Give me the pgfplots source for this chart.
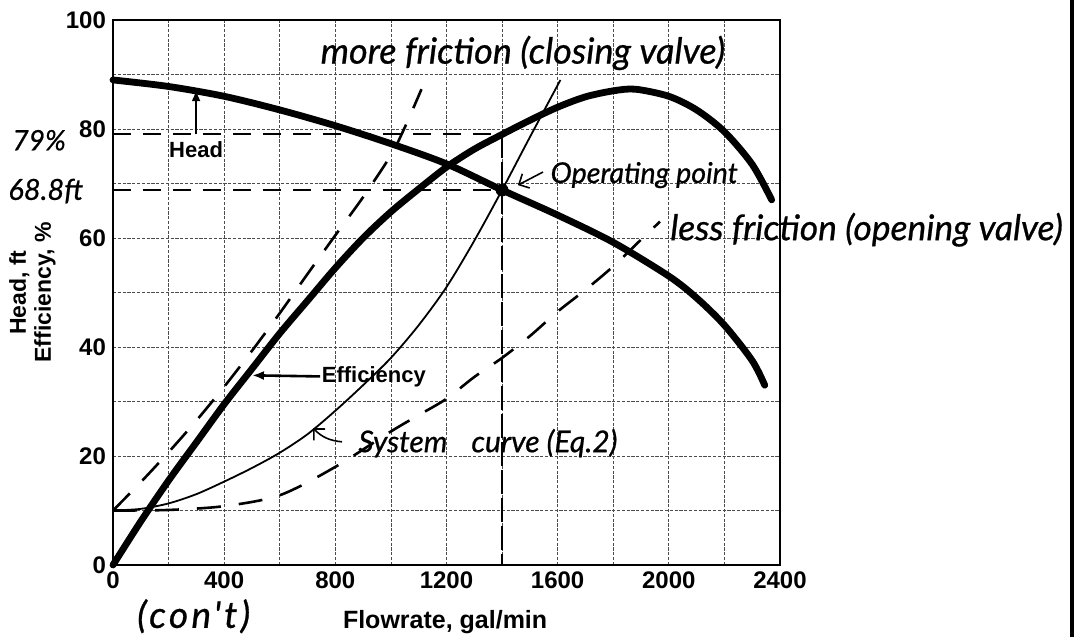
\documentclass[border=0pt]{standalone}
\usepackage{pgfplots}
\pgfplotsset{compat=1.18}
\usepackage{fontspec}
\setmainfont{Liberation Sans}
\newfontfamily\hand{Lato Italic}[FakeBold=0.7]
\newfontfamily\handwide{Lato Italic}[FakeBold=0.7, LetterSpace=9]
\usetikzlibrary{arrows.meta}
\begin{document}
\begin{tikzpicture}
\useasboundingbox (-56.5pt,-36pt) rectangle (482.5pt,282.5pt);
\begin{axis}[
  at={(0pt,0pt)}, anchor=south west,
  scale only axis, width=333.5pt, height=272.5pt,
  xmin=0, xmax=2400, ymin=0, ymax=100,
  xtick={0,400,...,2400}, minor xtick={200,600,...,2200},
  ytick={0,20,...,100}, minor ytick={10,30,...,90},
  grid=both,
  major grid style={black!70, line width=0.4pt, dash pattern=on 1.6pt off 0.8pt},
  minor grid style={black!70, line width=0.4pt, dash pattern=on 1.6pt off 0.8pt},
  major tick length=0pt, minor tick length=0pt,
  axis line style={black, line width=0.7pt},
  ticklabel style={font=\bfseries\fontsize{12}{14}\selectfont},
  /pgf/number format/assume math mode=true,
  /pgf/number format/1000 sep={},
  clip=false,
]
% Head curve
\addplot[black, line width=3.4pt, line cap=round, smooth] coordinates {
(0,89) (200,87.8) (400,86) (600,83.5) (800,80.6) (1000,77.3) (1200,73.6) (1400,68.8)
(1600,64.2) (1800,59.2) (2000,53) (2100,49) (2200,44) (2300,37.5) (2345,33)};
% Efficiency curve
\addplot[black, line width=3.4pt, line cap=round, smooth] coordinates {
(0,0) (100,8) (200,15.5) (300,22.5) (400,29.5) (500,36) (600,42.5) (700,48.5) (800,54.5)
(900,60) (1000,64.8) (1100,69) (1200,73) (1300,76.3) (1400,79) (1500,81.6) (1600,84)
(1700,85.9) (1800,87) (1880,87.3) (2000,86) (2100,83.5) (2200,79.5) (2300,73.5) (2370,67)};
% System curve
\addplot[black, line width=0.9pt, smooth] coordinates {
(0,10) (100,10.3) (200,11.3) (300,13) (400,15.3) (500,17.8) (600,20.6) (700,24) (800,28.3)
(900,33) (1000,38) (1100,44) (1200,51) (1300,59.5) (1400,68.8) (1500,78.5) (1610,89)};
% More friction
\addplot[black, line width=1.3pt, dash pattern=on 12pt off 9pt, smooth] coordinates {
(0,10) (100,15.2) (200,20.7) (300,26.5) (400,32.7) (500,39.3) (600,46.2) (700,53.4)
(800,60.5) (900,67.5) (1000,75.2) (1050,80.3) (1110,87.3)};
% Less friction
\addplot[black, line width=1.3pt, dash pattern=on 12pt off 9pt, smooth] coordinates {
(0,10) (200,10.1) (400,10.8) (600,12.8) (800,18) (1000,24.5) (1100,27.5) (1200,30.5)
(1300,34.5) (1400,38) (1500,42) (1600,46.5) (1700,50.5) (1800,54.8) (1900,59.7) (1968,63)};
% reference lines
\addplot[black, line width=1pt, dash pattern=on 9pt off 6pt] coordinates {(0,79) (1400,79)};
\addplot[black, line width=1pt, dash pattern=on 9pt off 6pt] coordinates {(0,68.8) (1400,68.8)};
\addplot[black, line width=1.2pt, dash pattern=on 12pt off 2pt] coordinates {(1400,79) (1400,0)};
\addplot[only marks, mark=*, mark size=3pt, black] coordinates {(1400,68.8)};

% printed labels
\node[anchor=west, inner sep=0pt, font=\bfseries\fontsize{11}{13}\selectfont] at (axis cs:750,34.5) {Efficiency};
\draw[-{Latex[length=6pt,width=4.5pt]}, line width=1.3pt] (axis cs:745,34.6) -- (axis cs:500,34.8);
\node[font=\bfseries\fontsize{11}{13}\selectfont] at (axis cs:299,76.3) {Head};
\draw[-{Latex[length=6pt,width=4.5pt]}, line width=1.3pt] (axis cs:299,79) -- (axis cs:299,87.3);
\node[anchor=base, font=\bfseries\fontsize{12.5}{14}\selectfont] at (axis cs:1195,-11.6) {Flowrate, gal/min};
\node[rotate=90, align=center, font=\bfseries\fontsize{11.5}{12.5}\selectfont] at (axis cs:-290,50) {Head, ft\\Efficiency, \%};

% handwritten annotations
\node[anchor=base, font=\hand\fontsize{18}{21}\selectfont] at (axis cs:1475,92) {more friction (closing valve)};
\node[anchor=base west, inner sep=0pt, font=\hand\fontsize{14.3}{17}\selectfont] at (axis cs:1573,70.1) {Operating point};
\draw[-{Straight Barb[length=4pt]}, line width=0.8pt] (axis cs:1547,72.1) -- (axis cs:1457,69.7);
\node[anchor=base west, inner sep=0pt, font=\hand\fontsize{17.7}{21}\selectfont] at (axis cs:2004,59.6) {less friction (opening valve)};
\node[anchor=base west, inner sep=0pt, font=\hand\fontsize{15}{18}\selectfont] at (axis cs:882,20.7) {System\hspace{0.8em}curve (Eq.2)};
\draw[-{Straight Barb[length=4pt]}, line width=0.8pt] (axis cs:824,22.6) to[bend left=20] (axis cs:720,25.1);
\node[anchor=base west, inner sep=0pt, font=\hand\fontsize{14}{17}\selectfont] at (axis cs:-363,76.1) {79\%};
\node[anchor=base west, inner sep=0pt, font=\hand\fontsize{14.5}{17}\selectfont] at (axis cs:-378,67) {68.8ft};
\node[anchor=west, inner sep=0pt, font=\handwide\fontsize{18.5}{21}\selectfont] at (axis cs:86,-9.4) {(con't)};
\end{axis}
\draw[line width=1.6pt] (479.5pt,-36pt) -- (479.5pt,282.5pt);
\end{tikzpicture}
\end{document}
